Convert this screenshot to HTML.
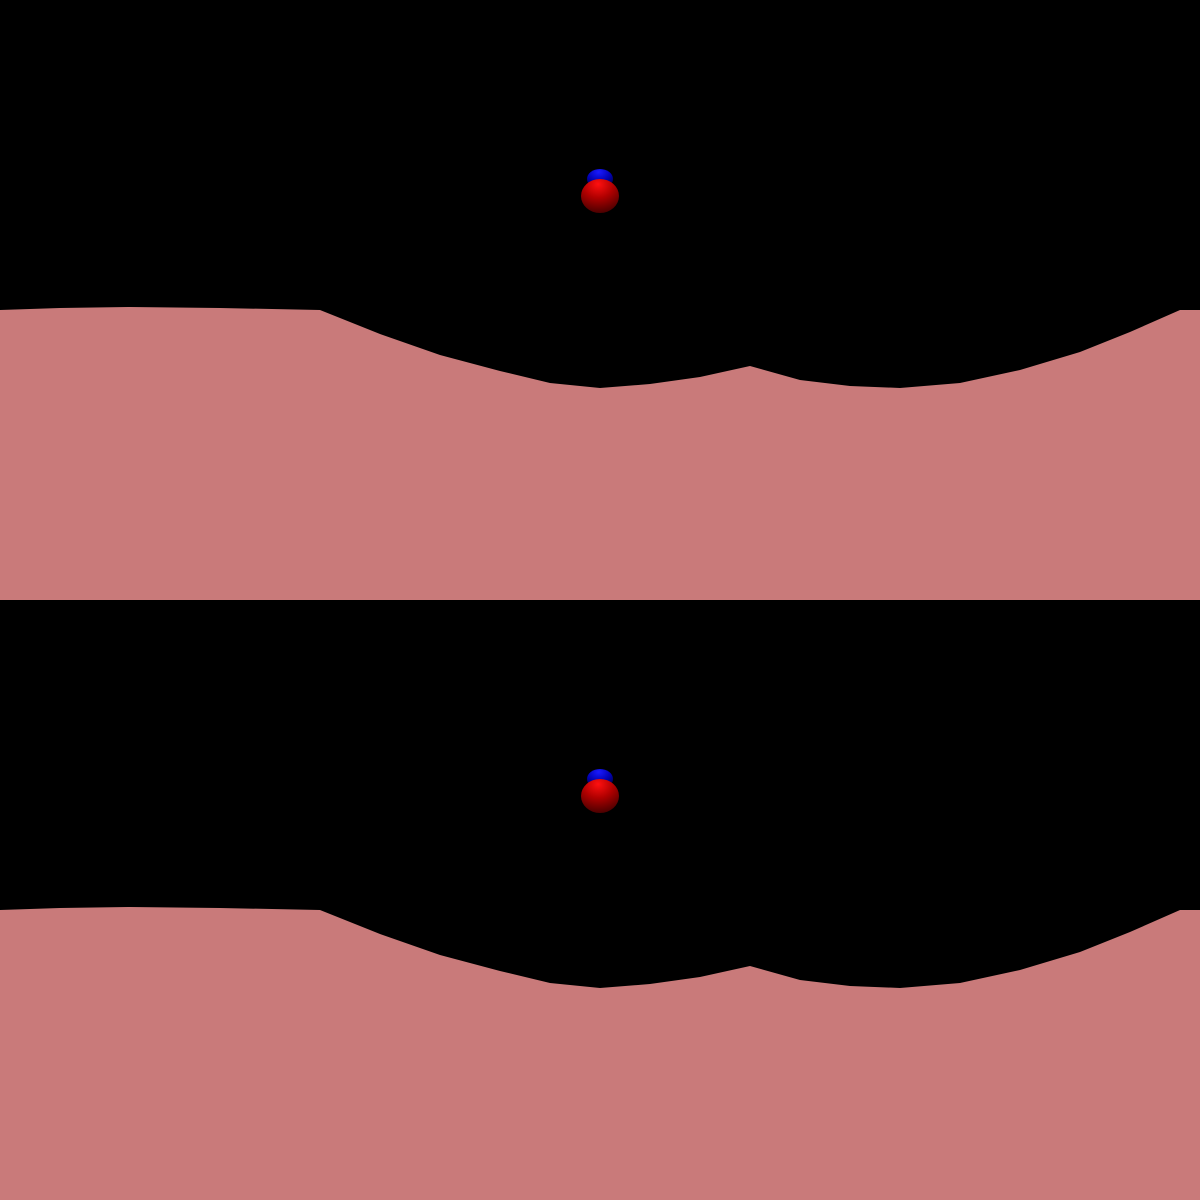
<!DOCTYPE html>
<html><head><meta charset="utf-8"><style>html,body{margin:0;padding:0;background:#000;width:1200px;height:1200px;overflow:hidden}</style></head>
<body>
<svg id="scene" width="1200" height="1200" viewBox="0 0 1200 1200" xmlns="http://www.w3.org/2000/svg">
<defs>
<radialGradient id="rg" cx="0.45" cy="0.15" r="0.9"><stop offset="0" stop-color="#ff1010"/><stop offset="0.45" stop-color="#b00000"/><stop offset="1" stop-color="#400000"/></radialGradient>
<radialGradient id="bg" cx="0.45" cy="0.15" r="0.8"><stop offset="0" stop-color="#1a1aff"/><stop offset="0.6" stop-color="#0000b0"/><stop offset="1" stop-color="#000040"/></radialGradient>
</defs>
<rect width="1200" height="1200" fill="#000"/>
</svg>
<script>
// surface profile: x positions and surface heights (y within a 600px panel)
const profileX = [0,60,130,220,320,380,440,500,550,600,650,700,750,800,850,900,960,1020,1080,1130,1180,1200];
const profileY = [310,308,307,308,310,334,355,371,383,388,384,377,366,380,386,388,383,370,352,332,310,310];
const panels = [0,600];
const svg = document.getElementById('scene');
const NS = 'http://www.w3.org/2000/svg';
panels.forEach((off, i) => {
  const g = document.createElementNS(NS,'g');
  
  
  g.setAttribute('transform', 'translate(0,' + off + ')');
  let d = 'M0,600';
  for (let k = 0; k < profileX.length; k++) d += ' L' + profileX[k] + ',' + profileY[k];
  d += ' L1200,600 Z';
  const p = document.createElementNS(NS,'path');
  
  
  p.setAttribute('d', d);
  p.setAttribute('fill', '#c97a7a');
  g.appendChild(p);
  const b = document.createElementNS(NS,'ellipse');
  
  
  b.setAttribute('cx', 600); b.setAttribute('cy', 179); b.setAttribute('rx', 13); b.setAttribute('ry', 10);
  b.setAttribute('fill', 'url(#bg)');
  g.appendChild(b);
  const r = document.createElementNS(NS,'ellipse');
  
  
  r.setAttribute('cx', 600); r.setAttribute('cy', 196); r.setAttribute('rx', 19); r.setAttribute('ry', 17);
  r.setAttribute('fill', 'url(#rg)');
  g.appendChild(r);
  svg.appendChild(g);
});
</script>
</body></html>
